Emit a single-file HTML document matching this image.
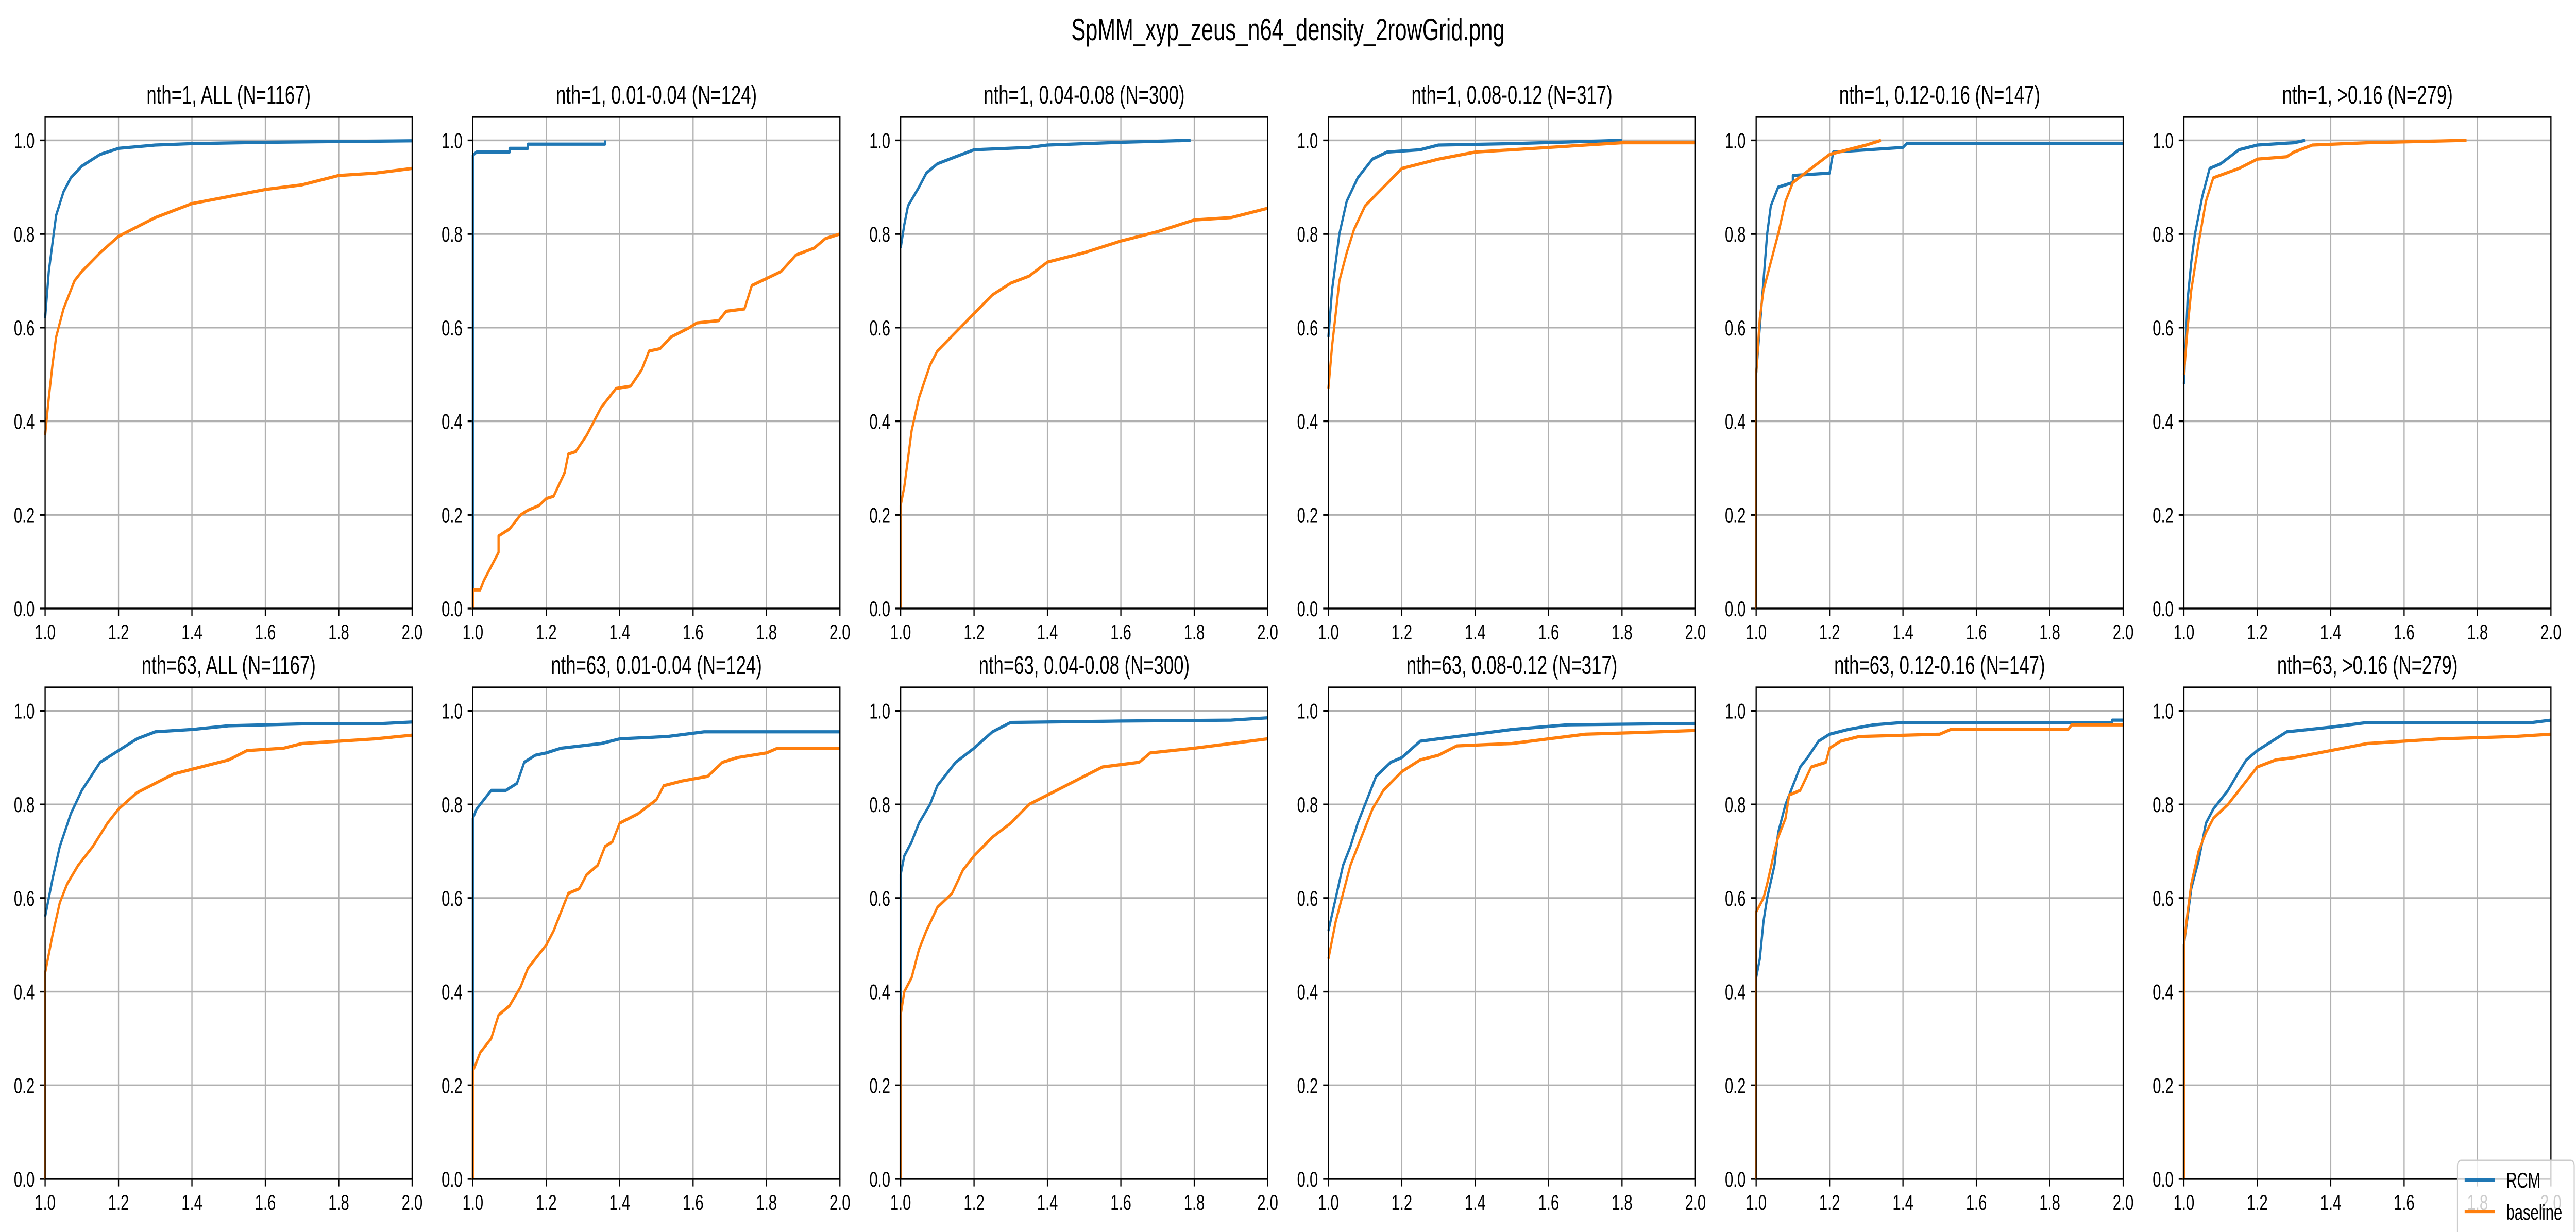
<!DOCTYPE html>
<html><head><meta charset="utf-8"><style>
html,body{margin:0;padding:0;background:#fff;overflow:hidden;width:100%;height:100%;}
svg{display:block;width:100vw;height:100vh;font-family:"Liberation Sans","DejaVu Sans",sans-serif;}
</style></head><body>
<svg id="fig" viewBox="0 0 7194 2391" preserveAspectRatio="none" xmlns="http://www.w3.org/2000/svg">
<rect width="7194" height="2391" fill="#fff"/>
<text x="3597" y="78" font-size="60" text-anchor="middle">SpMM_xyp_zeus_n64_density_2rowGrid.png</text>
<g id="plots"></g>
<g>
<rect x="6863" y="2252" width="326" height="150" rx="10" fill="#fff" fill-opacity="0.8" stroke="#cccccc" stroke-width="3"/>
<line x1="6883" y1="2290" x2="6968" y2="2290" stroke="#1f77b4" stroke-width="6.25"/>
<text x="6999" y="2305" font-size="42">RCM</text>
<line x1="6883" y1="2352" x2="6968" y2="2352" stroke="#ff7f0e" stroke-width="6.25"/>
<text x="6999" y="2367" font-size="42">baseline</text>
</g>
</svg>
<script>
const titles = ["nth=1, ALL (N=1167)","nth=1, 0.01-0.04 (N=124)","nth=1, 0.04-0.08 (N=300)","nth=1, 0.08-0.12 (N=317)","nth=1, 0.12-0.16 (N=147)","nth=1, >0.16 (N=279)",
"nth=63, ALL (N=1167)","nth=63, 0.01-0.04 (N=124)","nth=63, 0.04-0.08 (N=300)","nth=63, 0.08-0.12 (N=317)","nth=63, 0.12-0.16 (N=147)","nth=63, >0.16 (N=279)"];
const xTicks = [1.0,1.2,1.4,1.6,1.8,2.0];
const xTickLabels = ["1.0","1.2","1.4","1.6","1.8","2.0"];
const yTicks = [0,0.2,0.4,0.6,0.8,1.0];
const yTickLabels = ["0.0","0.2","0.4","0.6","0.8","1.0"];
const rcm = [
[[1.0,0.62],[1.01,0.72],[1.02,0.78],[1.03,0.84],[1.05,0.89],[1.07,0.92],[1.1,0.945],[1.15,0.97],[1.2,0.983],[1.3,0.99],[1.4,0.993],[1.6,0.996],[2.0,0.999]],
[[1.0,0],[1.0,0.968],[1.01,0.975],[1.1,0.975],[1.1,0.983],[1.15,0.983],[1.15,0.992],[1.36,0.992],[1.36,1.0]],
[[1.0,0.77],[1.01,0.82],[1.02,0.86],[1.05,0.9],[1.07,0.93],[1.1,0.95],[1.15,0.965],[1.2,0.98],[1.35,0.985],[1.4,0.99],[1.6,0.996],[1.79,1.0]],
[[1.0,0.58],[1.01,0.68],[1.02,0.74],[1.03,0.80],[1.05,0.87],[1.08,0.92],[1.12,0.96],[1.16,0.975],[1.25,0.98],[1.3,0.99],[1.5,0.993],[1.8,1.0]],
[[1.0,0.5],[1.01,0.6],[1.02,0.7],[1.03,0.8],[1.04,0.86],[1.06,0.9],[1.1,0.91],[1.1,0.925],[1.2,0.93],[1.21,0.975],[1.4,0.985],[1.41,0.993],[2.0,0.993]],
[[1.0,0.48],[1.01,0.66],[1.02,0.74],[1.03,0.8],[1.05,0.88],[1.07,0.94],[1.1,0.95],[1.15,0.98],[1.2,0.99],[1.3,0.995],[1.33,1.0]],
[[1.0,0.56],[1.02,0.64],[1.04,0.71],[1.07,0.78],[1.1,0.83],[1.15,0.89],[1.2,0.915],[1.25,0.94],[1.3,0.955],[1.4,0.96],[1.5,0.968],[1.7,0.972],[1.9,0.972],[2.0,0.976]],
[[1.0,0],[1.0,0.77],[1.01,0.79],[1.03,0.81],[1.05,0.83],[1.09,0.83],[1.12,0.845],[1.14,0.89],[1.17,0.905],[1.2,0.91],[1.24,0.92],[1.35,0.93],[1.4,0.94],[1.53,0.945],[1.63,0.955],[2.0,0.955]],
[[1.0,0],[1.0,0.65],[1.01,0.69],[1.03,0.72],[1.05,0.76],[1.08,0.80],[1.1,0.84],[1.15,0.89],[1.2,0.92],[1.25,0.955],[1.3,0.975],[1.6,0.978],[1.9,0.98],[2.0,0.985]],
[[1.0,0.53],[1.02,0.6],[1.04,0.67],[1.06,0.71],[1.08,0.76],[1.1,0.8],[1.13,0.86],[1.17,0.89],[1.2,0.9],[1.25,0.935],[1.3,0.94],[1.4,0.95],[1.5,0.96],[1.65,0.97],[2.0,0.973]],
[[1.0,0],[1.0,0.43],[1.01,0.47],[1.02,0.55],[1.03,0.6],[1.05,0.67],[1.06,0.74],[1.08,0.8],[1.1,0.84],[1.12,0.88],[1.14,0.9],[1.17,0.935],[1.2,0.95],[1.25,0.96],[1.32,0.97],[1.4,0.975],[1.97,0.975],[1.97,0.98],[2.0,0.98]],
[[1.0,0],[1.0,0.5],[1.01,0.56],[1.02,0.62],[1.04,0.68],[1.06,0.76],[1.08,0.79],[1.1,0.81],[1.12,0.83],[1.15,0.87],[1.17,0.895],[1.2,0.915],[1.25,0.94],[1.28,0.955],[1.4,0.965],[1.45,0.97],[1.5,0.975],[1.95,0.975],[2.0,0.98]]
];
const baseline = [
[[1.0,0.37],[1.01,0.45],[1.02,0.52],[1.03,0.58],[1.05,0.64],[1.08,0.70],[1.1,0.72],[1.15,0.76],[1.2,0.795],[1.3,0.835],[1.4,0.865],[1.5,0.88],[1.6,0.895],[1.7,0.905],[1.8,0.925],[1.9,0.93],[2.0,0.94]],
[[1.0,0],[1.0,0.04],[1.02,0.04],[1.03,0.06],[1.05,0.09],[1.07,0.12],[1.07,0.155],[1.1,0.17],[1.13,0.2],[1.15,0.21],[1.18,0.22],[1.2,0.235],[1.22,0.24],[1.25,0.29],[1.26,0.33],[1.28,0.335],[1.31,0.37],[1.33,0.40],[1.35,0.43],[1.39,0.47],[1.43,0.475],[1.46,0.51],[1.48,0.55],[1.51,0.555],[1.54,0.58],[1.59,0.60],[1.61,0.61],[1.67,0.615],[1.69,0.635],[1.74,0.64],[1.76,0.69],[1.80,0.705],[1.84,0.72],[1.88,0.755],[1.93,0.77],[1.96,0.79],[2.0,0.80]],
[[1.0,0],[1.0,0.22],[1.01,0.26],[1.02,0.32],[1.03,0.38],[1.05,0.45],[1.08,0.52],[1.1,0.55],[1.15,0.59],[1.2,0.63],[1.25,0.67],[1.3,0.695],[1.35,0.71],[1.4,0.74],[1.5,0.76],[1.6,0.785],[1.7,0.805],[1.8,0.83],[1.9,0.835],[2.0,0.855]],
[[1.0,0.47],[1.01,0.56],[1.02,0.63],[1.03,0.70],[1.05,0.76],[1.07,0.81],[1.1,0.86],[1.15,0.9],[1.2,0.94],[1.3,0.96],[1.4,0.975],[1.6,0.985],[1.8,0.995],[2.0,0.995]],
[[1.0,0],[1.0,0.5],[1.01,0.62],[1.02,0.68],[1.04,0.74],[1.06,0.8],[1.08,0.87],[1.1,0.91],[1.15,0.94],[1.2,0.97],[1.25,0.98],[1.3,0.99],[1.34,1.0]],
[[1.0,0.5],[1.01,0.6],[1.02,0.68],[1.04,0.78],[1.06,0.87],[1.08,0.92],[1.15,0.94],[1.2,0.96],[1.28,0.965],[1.3,0.975],[1.35,0.99],[1.5,0.995],[1.77,1.0]],
[[1.0,0],[1.0,0.44],[1.02,0.52],[1.04,0.59],[1.06,0.63],[1.09,0.67],[1.13,0.71],[1.17,0.76],[1.2,0.79],[1.25,0.825],[1.3,0.845],[1.35,0.865],[1.4,0.875],[1.5,0.895],[1.55,0.915],[1.65,0.92],[1.7,0.93],[1.8,0.935],[1.9,0.94],[2.0,0.948]],
[[1.0,0],[1.0,0.23],[1.02,0.27],[1.05,0.3],[1.07,0.35],[1.1,0.37],[1.13,0.41],[1.15,0.45],[1.17,0.47],[1.2,0.5],[1.22,0.53],[1.24,0.57],[1.26,0.61],[1.29,0.62],[1.31,0.65],[1.34,0.67],[1.36,0.71],[1.38,0.72],[1.4,0.76],[1.45,0.78],[1.5,0.81],[1.52,0.84],[1.57,0.85],[1.64,0.86],[1.68,0.89],[1.72,0.9],[1.8,0.91],[1.83,0.92],[2.0,0.92]],
[[1.0,0],[1.0,0.35],[1.01,0.40],[1.03,0.43],[1.05,0.49],[1.07,0.53],[1.1,0.58],[1.14,0.61],[1.17,0.66],[1.2,0.69],[1.25,0.73],[1.3,0.76],[1.35,0.80],[1.4,0.82],[1.5,0.86],[1.55,0.88],[1.65,0.89],[1.68,0.91],[1.8,0.92],[1.9,0.93],[2.0,0.94]],
[[1.0,0.47],[1.02,0.55],[1.04,0.61],[1.06,0.67],[1.09,0.73],[1.12,0.79],[1.15,0.83],[1.2,0.87],[1.25,0.895],[1.3,0.905],[1.35,0.925],[1.5,0.93],[1.6,0.94],[1.7,0.95],[1.9,0.955],[2.0,0.958]],
[[1.0,0],[1.0,0.57],[1.02,0.6],[1.03,0.63],[1.05,0.7],[1.06,0.73],[1.08,0.77],[1.09,0.82],[1.12,0.83],[1.15,0.88],[1.19,0.89],[1.2,0.92],[1.23,0.935],[1.28,0.945],[1.5,0.95],[1.53,0.96],[1.85,0.96],[1.86,0.97],[2.0,0.97]],
[[1.0,0],[1.0,0.5],[1.01,0.57],[1.02,0.63],[1.04,0.7],[1.06,0.74],[1.08,0.77],[1.12,0.8],[1.15,0.83],[1.18,0.86],[1.2,0.88],[1.25,0.895],[1.3,0.9],[1.4,0.915],[1.5,0.93],[1.7,0.94],[1.9,0.945],[2.0,0.95]]
];
const NS="http://www.w3.org/2000/svg";
const root=document.getElementById('plots');
function mk(tag,attrs,parent){const e=document.createElementNS(NS,tag);for(const k in attrs)e.setAttribute(k,attrs[k]);(parent||root).appendChild(e);return e;}
const W=1025,H=954,X0=126,DX=1194.6,TOPS=[227,1334];
for(let i=0;i<12;i++){
  const r=Math.floor(i/6),c=i%6;
  const L=X0+c*DX,T=TOPS[r],B=T+H,R=L+W;
  const xs=v=>L+(v-1)/(2-1)*W;
  const ys=v=>B-(v/1.05)*H;
  const g=mk('g',{});
  
  
  const t=mk('text',{x:L+W/2,y:T-26,'font-size':50,'text-anchor':'middle'},g);
  
  
  t.textContent=titles[i];
  xTicks.forEach((v,k)=>{
    const gl=mk('line',{x1:xs(v),x2:xs(v),y1:T,y2:B,stroke:'#b0b0b0','stroke-width':3.3},g);
    
    
    mk('line',{x1:xs(v),x2:xs(v),y1:B,y2:B+14.6,stroke:'#000','stroke-width':3.3},g);
    const tl=mk('text',{x:xs(v),y:B+60,'font-size':42,'text-anchor':'middle'},g);
    
    
    tl.textContent=xTickLabels[k];
  });
  yTicks.forEach((v,k)=>{
    const gl=mk('line',{x1:L,x2:R,y1:ys(v),y2:ys(v),stroke:'#b0b0b0','stroke-width':3.3},g);
    
    
    mk('line',{x1:L-14.6,x2:L,y1:ys(v),y2:ys(v),stroke:'#000','stroke-width':3.3},g);
    const tl=mk('text',{x:L-29,y:ys(v)+15,'font-size':42,'text-anchor':'end'},g);
    
    
    tl.textContent=yTickLabels[k];
  });
  [[rcm[i],'#1f77b4','rcm-line'],[baseline[i],'#ff7f0e','baseline-line']].forEach(([pts,col,nm])=>{
    const d=pts.map((p,k)=>(k?'L':'M')+xs(p[0]).toFixed(1)+' '+ys(p[1]).toFixed(1)).join(' ');
    const p=mk('path',{d:d,fill:'none',stroke:col,'stroke-width':6.25,'stroke-linejoin':'round'},g);
    
    
  });
  const fr=mk('rect',{x:L,y:T,width:W,height:H,fill:'none',stroke:'#000','stroke-width':3.3},g);
  
  
}
</script>
</body></html>
